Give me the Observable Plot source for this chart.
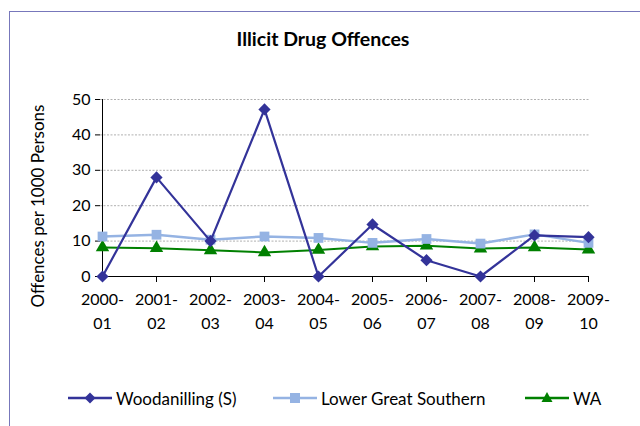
<!DOCTYPE html>
<html>
<head>
<meta charset="utf-8">
<script src="https://cdn.jsdelivr.net/npm/d3@7"></script>
<script src="https://cdn.jsdelivr.net/npm/@observablehq/plot@0.6"></script>
<style>
  html, body { margin: 0; padding: 0; background: #fff; }
  #wrap { position: relative; width: 640px; height: 426px; overflow: hidden; font-family: Lato, "Open Sans", sans-serif; color: #000; }
  #border { position: absolute; left: 9px; top: 11px; width: 700px; height: 500px; border: 1.5px solid #7777bb; box-sizing: border-box; }
  #title { position: absolute; top: 27px; left: 0; width: 646px; text-align: center; font-weight: bold; font-size: 19.5px; }
  #ylabel { position: absolute; left: 37px; top: 206px; transform: translate(-50%, -50%) rotate(-90deg); white-space: nowrap; font-size: 17px; }
  #chart { position: absolute; left: 0; top: 0; }
  .leg { position: absolute; top: 387px; height: 22px; display: flex; align-items: center; font-size: 17px; white-space: nowrap; }
  .leg svg { margin-right: 4px; }
</style>
</head>
<body>
<div id="wrap">
  <div id="border"></div>
  <div id="title">Illicit Drug Offences</div>
  <div id="ylabel">Offences per 1000 Persons</div>
  <div id="chart"></div>
  <div id="legend"></div>
</div>
<script>
const categories = ["2000-01","2001-02","2002-03","2003-04","2004-05","2005-06","2006-07","2007-08","2008-09","2009-10"];
const woodanilling = [0, 28, 10, 47.2, 0, 14.7, 4.6, 0, 11.6, 11.1];
const lowerGreatSouthern = [11.3, 11.8, 10.4, 11.3, 10.9, 9.5, 10.6, 9.3, 11.9, 9.5];
const wa = [8.2, 8.0, 7.4, 6.8, 7.5, 8.5, 8.7, 7.9, 8.2, 7.6];
const yTicks = [0, 10, 20, 30, 40, 50];
const seriesNames = ["Woodanilling (S)", "Lower Great Southern", "WA"];
const seriesColors = ["#333399", "#95b3e3", "#008000"];

const rows = [];
[woodanilling, lowerGreatSouthern, wa].forEach((vals, si) => {
  vals.forEach((v, i) => rows.push({series: seriesNames[si], period: categories[i], value: v}));
});
const bySeries = s => rows.filter(r => r.series === s);

const plot = Plot.plot({
  width: 640,
  height: 426,
  marginLeft: 100,
  marginRight: 51,
  marginTop: 99,
  marginBottom: 150,
  style: {fontFamily: "Lato, 'Open Sans', sans-serif", fontSize: "16px", color: "#000", background: "transparent"},
  x: {type: "point", domain: categories, padding: 0},
  y: {domain: [0, 50]},
  marks: [
    Plot.gridY(yTicks.filter(d => d > 0), {stroke: "#b0b0b0", strokeOpacity: 1, strokeDasharray: "2,1.5"}),
    Plot.axisX({tickSize: 6, tickPadding: 5, fontSize: 16, lineHeight: 1.5, tickFormat: d => d.replace("-", "-\n"), label: null, stroke: "#000"}),
    Plot.axisY({ticks: yTicks, tickSize: 5, tickPadding: 5, fontSize: 16, label: null}),
    Plot.ruleY([0], {stroke: "#000", strokeWidth: 1}),
    Plot.ruleX([categories[0]], {y1: 0, y2: 50, stroke: "#000", strokeWidth: 1}),
    Plot.line(bySeries(seriesNames[2]), {x: "period", y: "value", stroke: seriesColors[2], strokeWidth: 2}),
    Plot.dot(bySeries(seriesNames[2]), {x: "period", y: "value", symbol: "triangle", fill: seriesColors[2], r: 5}),
    Plot.line(bySeries(seriesNames[1]), {x: "period", y: "value", stroke: seriesColors[1], strokeWidth: 2.5}),
    Plot.dot(bySeries(seriesNames[1]), {x: "period", y: "value", symbol: "square", fill: seriesColors[1], r: 5.5}),
    Plot.line(bySeries(seriesNames[0]), {x: "period", y: "value", stroke: seriesColors[0], strokeWidth: 2.2}),
    Plot.dot(bySeries(seriesNames[0]), {x: "period", y: "value", symbol: "diamond2", fill: seriesColors[0], r: 5.5})
  ]
});
document.getElementById("chart").appendChild(plot);

// legend
const legendLeft = [68, 273, 525];
const symbolPaths = {
  0: '<path d="M22,5.5 L27.5,11 L22,16.5 L16.5,11 Z" />',
  1: '<rect x="17" y="6" width="10" height="10" />',
  2: '<path d="M22,5 L27.5,15 L16.5,15 Z" />'
};
const legend = document.getElementById("legend");
seriesNames.forEach((name, i) => {
  const div = document.createElement("div");
  div.className = "leg";
  div.style.left = legendLeft[i] + "px";
  div.innerHTML = `<svg width="44" height="22"><line x1="0" x2="44" y1="11" y2="11" stroke="${seriesColors[i]}" stroke-width="2.5"/><g fill="${seriesColors[i]}">${symbolPaths[i]}</g></svg><span>${name}</span>`;
  legend.appendChild(div);
});
</script>
</body>
</html>
